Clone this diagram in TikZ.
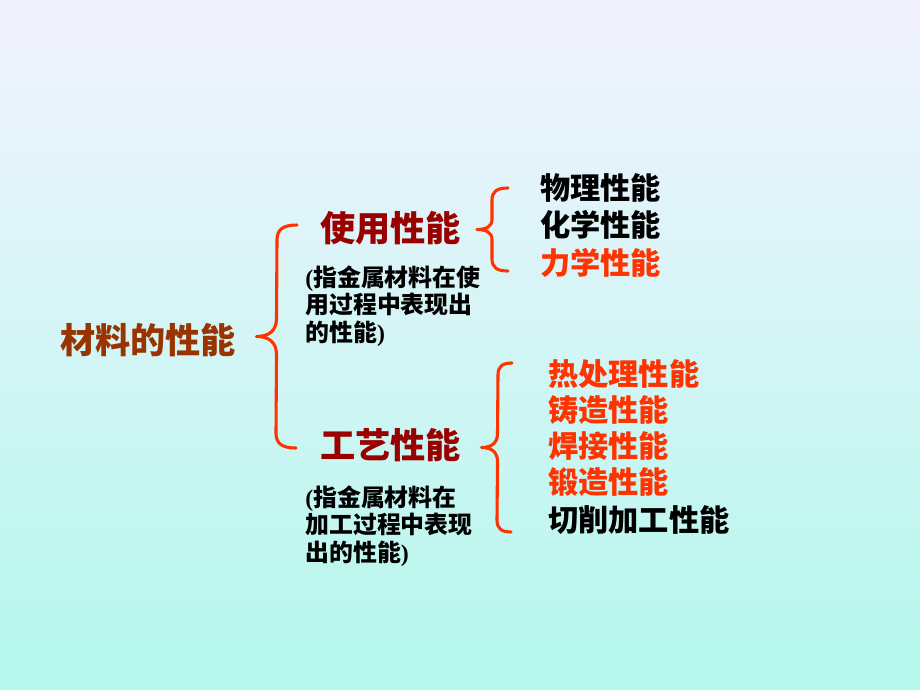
\documentclass[tikz,border=0pt]{standalone}
\usepackage{fontspec}
\newfontfamily\cjk{Noto Sans CJK SC}
\newfontfamily\latin{Liberation Serif}
\usetikzlibrary{calc,positioning}

\definecolor{rootbrown}{RGB}{153,51,0}
\definecolor{headred}{RGB}{153,0,0}
\definecolor{hotred}{RGB}{255,51,0}
\definecolor{topsky}{RGB}{242,242,254}
\definecolor{bottommint}{RGB}{180,248,236}

\tikzset{
  big/.style={anchor=west,inner sep=0pt,font=\cjk\bfseries\fontsize{25}{30}\selectfont},
  item/.style={anchor=west,inner sep=0pt,font=\cjk\bfseries\fontsize{21.5}{26}\selectfont},
  note/.style={anchor=north west,inner sep=0pt,align=left,font=\cjk\bfseries\fontsize{17}{19.9}\selectfont},
  curly/.style={hotred,line width=2.2pt,line cap=round,line join=round}
}

% left curly brace: #1 top end, #2 bottom end, #3 hook width, #4 tip depth, #5 hook radius, #6 tip half height
\newcommand{\sidebrace}[6]{%
  \coordinate (bmid) at ($(#1)!0.5!(#2)$);
  \draw[curly] (#1) .. controls ($(#1)+(-0.7*#3,0)$) and ($(#1)+(-#3,0.3*#5)$) .. ($(#1)+(-#3,#5)$)
    -- ($(bmid)+(-#3,-#6)$)
    .. controls ($(bmid)+(-#3,-0.3*#6)$) and ($(bmid)+(-#3-0.4*#4,0)$) .. ($(bmid)+(-#3-#4,0)$)
    .. controls ($(bmid)+(-#3-0.4*#4,0)$) and ($(bmid)+(-#3,0.3*#6)$) .. ($(bmid)+(-#3,#6)$)
    -- ($(#2)+(-#3,-#5)$)
    .. controls ($(#2)+(-#3,-0.3*#5)$) and ($(#2)+(-0.7*#3,0)$) .. (#2);
}

\begin{document}
\begin{tikzpicture}[x=0.025cm,y=-0.025cm]
    % background
    \shade[top color=topsky,bottom color=bottommint] (0,0) rectangle (920,690);
    \useasboundingbox (0,0) rectangle (920,690);

    % main heads
    \node[big,rootbrown] (root) at (60,340) {材料的性能};
    \node[big,headred] (use) at (320,228) {使用性能};
    \node[big,headred] (proc) at (320,445) {工艺性能};

    % notes
    \node[note] (usenote) at (305,265) {{\latin(}指金属材料在使\\用过程中表现出\\的性能{\latin)}};
    \node[note] (procnote) at (305,485) {{\latin(}指金属材料在\\加工过程中表现\\出的性能{\latin)}};

    % use properties
    \node[item] (phys) at (540,188) {物理性能};
    \node[item] (chem) at (540,225) {化学性能};
    \node[item,hotred] (mech) at (540,263) {力学性能};

    % process properties
    \node[item,hotred] (heat) at (548,374) {热处理性能};
    \node[item,hotred] (cast) at (548,410) {铸造性能};
    \node[item,hotred] (weld) at (548,446) {焊接性能};
    \node[item,hotred] (forge) at (548,482) {锻造性能};
    \node[item] (cut) at (548,520) {切削加工性能};

    % braces
    \coordinate (b1top) at (297,225);
    \coordinate (b1bot) at (296,448);
    \coordinate (b2top) at (508,188);
    \coordinate (b2bot) at (508,271);
    \coordinate (b3top) at (512,363);
    \coordinate (b3bot) at (511,532);
    \sidebrace{b1top}{b1bot}{20}{20}{15}{18}
    \sidebrace{b2top}{b2bot}{16}{15}{12}{10}
    \sidebrace{b3top}{b3bot}{14}{16}{12}{14}
\end{tikzpicture}
\end{document}
